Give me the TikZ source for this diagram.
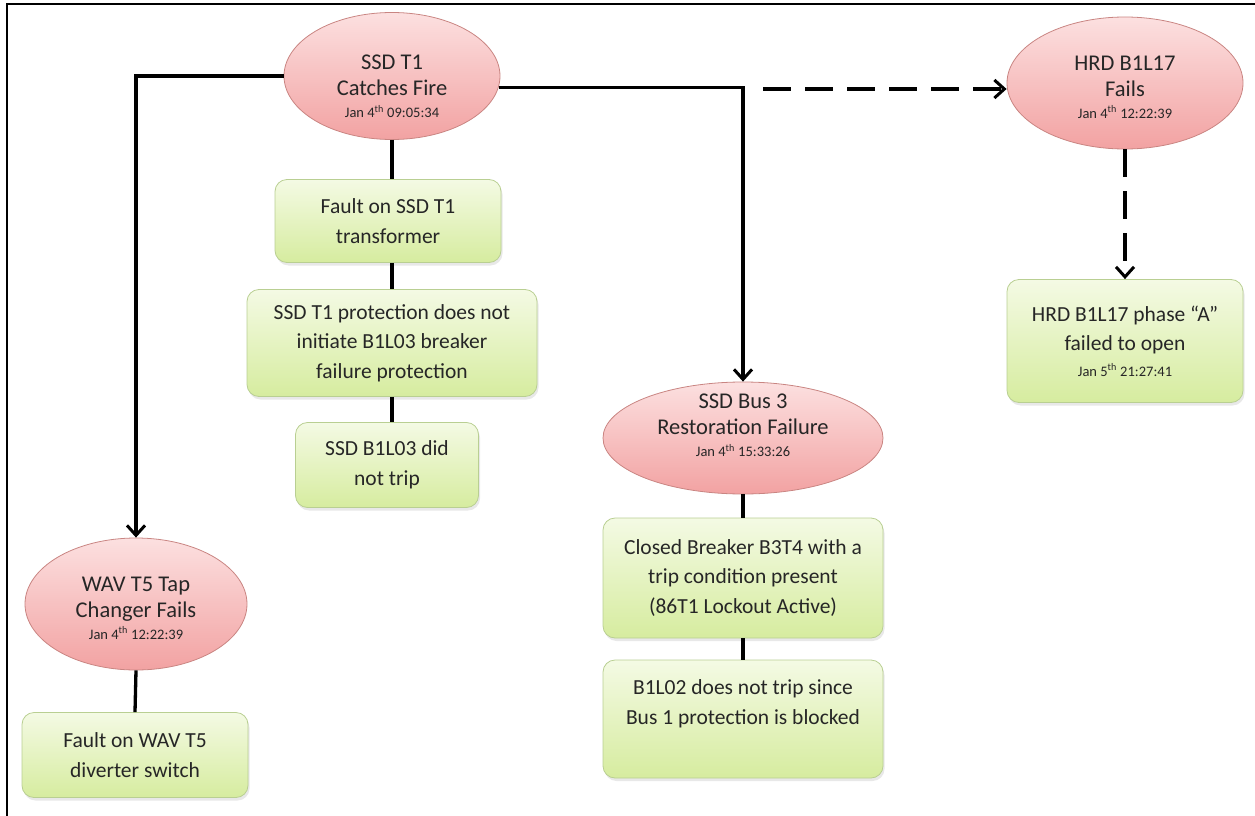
\documentclass[tikz,border=0pt]{standalone}
\usepackage{fontspec}
\setmainfont{Carlito}
\usetikzlibrary{arrows.meta,shapes.geometric,shadows,calc}
\definecolor{evttop}{HTML}{FCE0E0}
\definecolor{evtbot}{HTML}{F2A2A2}
\definecolor{evtline}{HTML}{C98582}
\definecolor{boxtop}{HTML}{F4FAE4}
\definecolor{boxbot}{HTML}{D6EC9F}
\definecolor{boxline}{HTML}{B9CF92}
\definecolor{txt}{HTML}{262626}
\newcommand{\datefont}{\fontsize{14.5}{16}\selectfont}
\begin{document}
\begin{tikzpicture}[x=1pt,y=-1pt,
  evt/.style={ellipse, draw=evtline, line width=0.8pt, top color=evttop, bottom color=evtbot, inner sep=0pt},
  evttext/.style={align=center, text=txt, font=\fontsize{22.5}{26}\selectfont, inner sep=0pt},
  stepbox/.style={rectangle, rounded corners=12pt, draw=boxline, line width=0.8pt,
    top color=boxtop, bottom color=boxbot,
    drop shadow={opacity=0.18, shadow xshift=1.5pt, shadow yshift=-3pt},
    align=center, text=txt, font=\fontsize{21.5}{29.5}\selectfont, inner sep=0pt},
  wire/.style={line width=3.3pt, draw=black},
  arr/.style={-{Straight Barb[length=10pt,width=18pt,line width=3pt]}},
  dashwire/.style={wire, dash pattern=on 28pt off 14pt}
]
\useasboundingbox (0,0) rectangle (1255,816);
% outer frame (top and left edges)
\draw[line width=2.2pt] (7,816) -- (7,4) -- (1255,4);

% event ellipses
\node[evt, minimum width=216pt, minimum height=127pt] (ssd) at (392,76) {};
\node[evttext] (ssdT) at (392,86) {SSD T1\\Catches Fire\\[-4pt]{\datefont Jan 4\textsuperscript{th} 09:05:34}};

\node[evt, minimum width=236pt, minimum height=132pt] (hrd) at (1125,83) {};
\node[evttext] (hrdT) at (1125,87) {HRD B1L17\\Fails\\[-4pt]{\datefont Jan 4\textsuperscript{th} 12:22:39}};

\node[evt, minimum width=280pt, minimum height=112pt] (bus) at (743,438) {};
\node[evttext] (busT) at (743,425) {SSD Bus 3\\Restoration Failure\\[-4pt]{\datefont Jan 4\textsuperscript{th} 15:33:26}};

\node[evt, minimum width=222pt, minimum height=132pt] (wav) at (136,604) {};
\node[evttext] (wavT) at (136,608) {WAV T5 Tap\\Changer Fails\\[-4pt]{\datefont Jan 4\textsuperscript{th} 12:22:39}};

% step boxes
\node[stepbox, minimum width=226pt, minimum height=83pt] (f1) at (388,221) {Fault on SSD T1\\transformer};
\node[stepbox, minimum width=290pt, minimum height=107pt] (prot) at (392,343) {SSD T1 protection does not\\initiate B1L03 breaker\\failure protection};
\node[stepbox, minimum width=183pt, minimum height=85pt] (b1) at (387,465) {SSD B1L03 did\\not trip};

\node[stepbox, minimum width=236pt, minimum height=123pt] (phA) at (1125,341) {HRD B1L17 phase “A”\\failed to open\\[-4pt]{\datefont Jan 5\textsuperscript{th} 21:27:41}};

\node[stepbox, minimum width=280pt, minimum height=120pt] (closed) at (743,578) {Closed Breaker B3T4 with a\\trip condition present\\(86T1 Lockout Active)};
\node[stepbox, minimum width=280pt, minimum height=118pt] (b2) at (743,719) {B1L02 does not trip since\\Bus 1 protection is blocked\\[4pt]\mbox{}};

\node[stepbox, minimum width=226pt, minimum height=85pt] (wf) at (135,755) {Fault on WAV T5\\diverter switch};

% connectors
\draw[wire, arr] (ssd.west) -| (wav.north);
\draw[wire, arr] (ssd.-6) -| (bus.north);
\coordinate (dstart) at (763,89);
\draw[dashwire, arr] (dstart) -- (dstart -| hrd.west);
\draw[dashwire, arr] (hrd.south) -- (phA.north);

\draw[wire] (ssd.south) -- (ssd.south |- f1.north);
\draw[wire] (f1.south -| ssd.south) -- (ssd.south |- prot.north);
\draw[wire] (prot.south -| ssd.south) -- (ssd.south |- b1.north);

\draw[wire] (bus.south) -- (closed.north);
\draw[wire] (closed.south) -- (b2.north);
\draw[wire] (wav.south) -- (wf.north);
\end{tikzpicture}
\end{document}
